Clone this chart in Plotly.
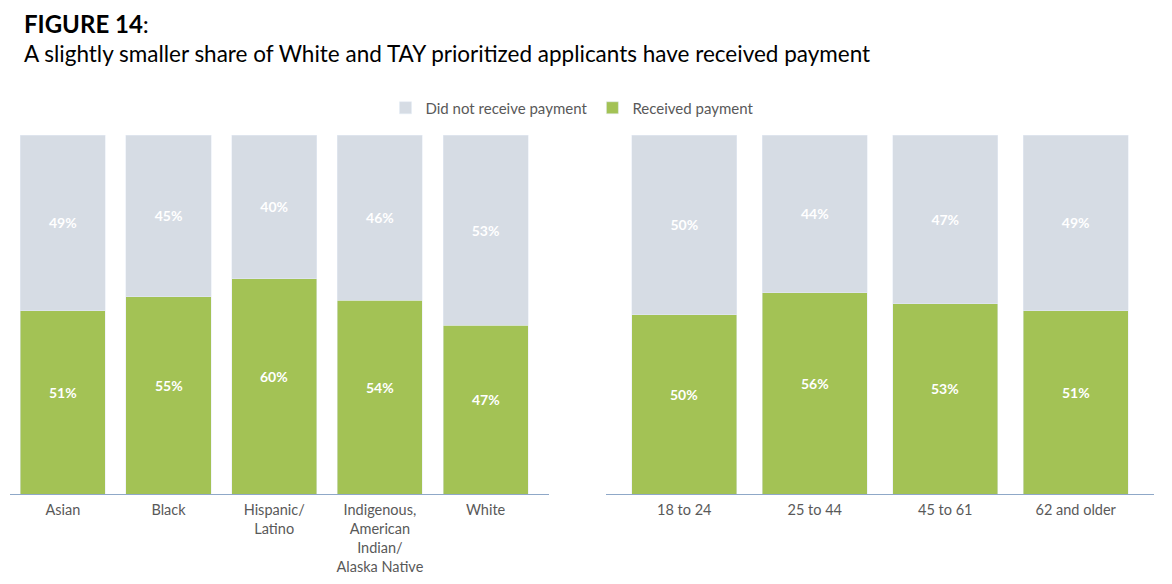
import plotly.graph_objects as go

race_groups = ["Asian", "Black", "Hispanic/<br>Latino",
               "Indigenous,<br>American<br>Indian/<br>Alaska Native", "White"]
race_received = [51, 55, 60, 54, 47]
race_not_received = [49, 45, 40, 46, 53]

age_groups = ["18 to 24", "25 to 44", "45 to 61", "62 and older"]
age_received = [50, 56, 53, 51]
age_not_received = [50, 44, 47, 49]

GREEN = "#A3C255"
GREY = "#D6DCE4"
AXIS = "#8FA8C8"
FONT = "Lato"

# page body adds an 8px offset, so work in shifted pixel coords
OFF = 8
W, H = 1172 - OFF, 584 - OFF
ML, MR, MT, MB = 10 - OFF, 18, 135 - OFF, 90
plot_h = H - MT - MB


def py(px):
    # screen pixel row -> paper y
    return (H - MB - (px - OFF)) / plot_h


def px_x(px):
    return (px - OFF - ML) / (W - ML - MR)


fig = go.Figure()
label_font = dict(color="white", size=14, family=FONT, weight="bold")
labels = []


def add_pair(x, rec, notrec, xa, ya, legend):
    fig.add_trace(go.Bar(
        x=x, y=rec, name="Received payment", marker_color=GREEN,
        xaxis=xa, yaxis=ya, showlegend=legend, legendgroup="rec",
        hoverinfo="skip"))
    fig.add_trace(go.Bar(
        x=x, y=notrec, name="Did not receive payment", marker_color=GREY,
        text=[f"{v}%" for v in notrec], textposition="inside",
        insidetextanchor="middle", textfont=label_font,
        xaxis=xa, yaxis=ya, showlegend=legend, legendgroup="not",
        hoverinfo="skip"))
    # green labels sit a little above the segment middle in the original
    for cat, v in zip(x, rec):
        labels.append(dict(x=cat, y=v / 2, xref=xa, yref=ya, text=f"{v}%",
                           showarrow=False, yshift=10, font=label_font))


add_pair(race_groups, race_received, race_not_received, "x", "y", True)
add_pair(age_groups, age_received, age_not_received, "x2", "y2", False)

axis_common = dict(showline=True, linecolor=AXIS, linewidth=1, ticks="",
                   tickfont=dict(size=14.5, color="#595959", family=FONT),
                   ticklabelstandoff=3,
                   showgrid=False, zeroline=False, fixedrange=True)
yaxis_common = dict(range=[0, 100], visible=False, fixedrange=True)

title_text = ("<span style='font-size:24px'><b>FIGURE 14</b>:</span><br>"
              "A slightly smaller share of White and TAY prioritized applicants have received payment")

fig.update_layout(
    width=W, height=H,
    barmode="stack",
    bargap=0.195,
    plot_bgcolor="white", paper_bgcolor="white",
    margin=dict(l=ML, r=MR, t=MT, b=MB),
    font=dict(family=FONT, color="#595959"),
    xaxis=dict(domain=[0, px_x(549)], range=[-0.5, 4.6], **axis_common),
    xaxis2=dict(domain=[px_x(606), 1], range=[-0.6, 3.6], **axis_common),
    yaxis=dict(anchor="x", **yaxis_common),
    yaxis2=dict(anchor="x2", **yaxis_common),
    legend=dict(orientation="h", traceorder="reversed",
                x=px_x(572), xanchor="center", y=py(108), yanchor="middle",
                font=dict(size=15, color="#595959", family=FONT)),
    annotations=labels + [
        dict(text=title_text, xref="paper", yref="paper",
             x=px_x(23), y=py(8), xanchor="left", yanchor="top",
             align="left", showarrow=False, borderpad=0,
             font=dict(size=22.5, color="black", family=FONT)),
    ],
)

fig.write_html("out.html")
